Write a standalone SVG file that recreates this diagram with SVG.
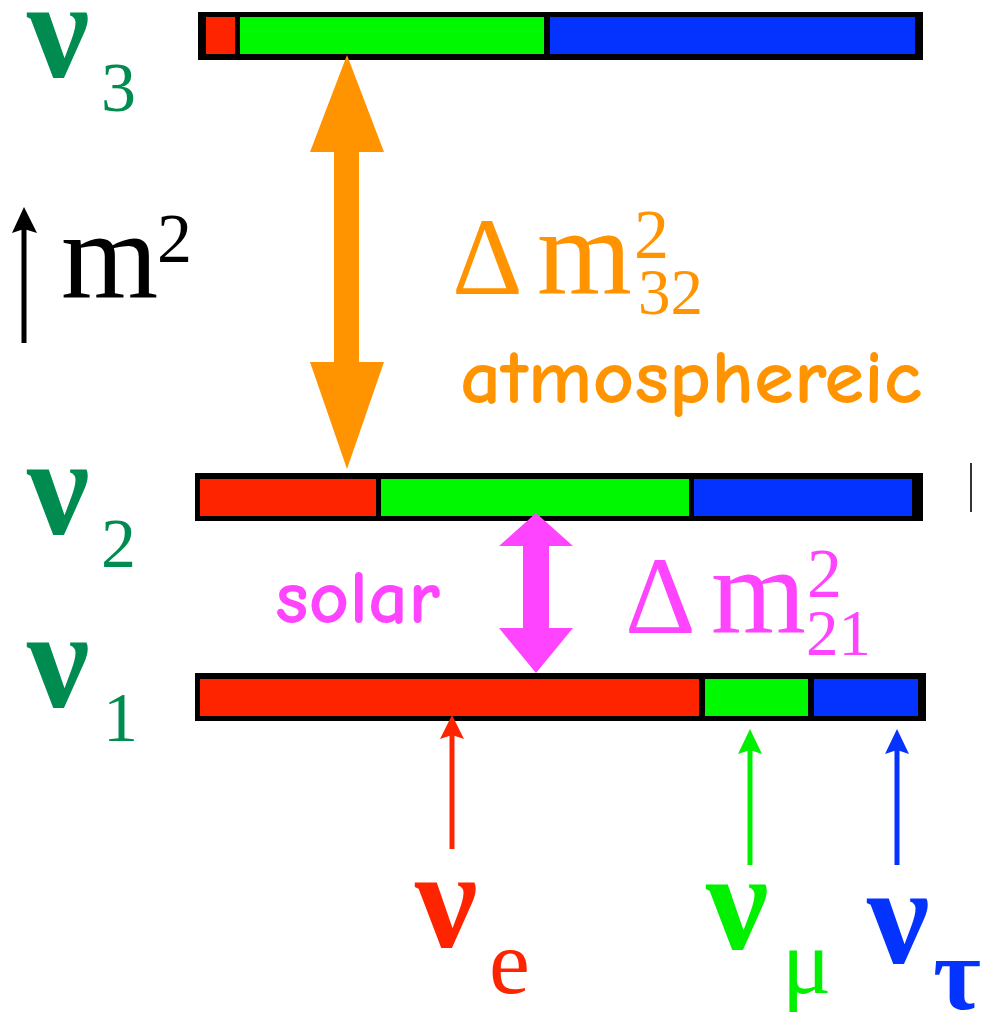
<svg xmlns="http://www.w3.org/2000/svg" width="982" height="1013" viewBox="0 0 982 1013">
<style>
.serif{font-family:"Liberation Serif","Times New Roman",serif}
.nu{font-family:"Liberation Serif","Times New Roman",serif;font-weight:bold;font-size:140px}
.sub{font-family:"Liberation Serif","Times New Roman",serif;font-size:70px}
.comic{font-family:"Comic Sans MS","Comic Neue","DejaVu Sans",sans-serif;font-size:76px;font-weight:bold}
.frame{fill:#000}
.r{fill:#FF2400}.g{fill:#00F800}.b{fill:#0433FF}
.lab{fill:#008C50}
</style>
<rect width="982" height="1013" fill="#fff"/>
<g id="level3">
<rect class="frame" x="198" y="12" width="725" height="48"/>
<rect class="r" x="206" y="17" width="29" height="37"/>
<rect class="g" x="240" y="17" width="304" height="37"/>
<rect class="b" x="550" y="17" width="365" height="37"/>
<text class="nu lab" x="27" y="77">ν</text>
<text class="sub lab" x="101" y="111">3</text>
</g>
<g id="level2">
<rect class="frame" x="195" y="473" width="728" height="48"/>
<rect class="r" x="200" y="479" width="176" height="37"/>
<rect class="g" x="381" y="479" width="308" height="37"/>
<rect class="b" x="694" y="479" width="218" height="37"/>
<text class="nu lab" x="27" y="534">ν</text>
<text class="sub lab" x="101" y="567">2</text>
<line x1="971" y1="463" x2="971" y2="512" stroke="#333" stroke-width="2"/>
</g>
<g id="level1">
<rect class="frame" x="195" y="673" width="731" height="48"/>
<rect class="r" x="200" y="679" width="499" height="37"/>
<rect class="g" x="705" y="679" width="103" height="37"/>
<rect class="b" x="814" y="679" width="104" height="37"/>
<text class="nu lab" x="27" y="707">ν</text>
<text class="sub lab" x="103" y="741">1</text>
</g>
<g id="axis">
<line x1="24" y1="343" x2="24" y2="228" stroke="#000" stroke-width="5"/>
<polygon points="24,207 37,233 24,229 12,233" fill="#000"/>
<text class="serif" x="61" y="297" font-size="125" fill="#000">m</text>
<text class="serif" x="157" y="262" font-size="70" fill="#000">2</text>
</g>
<g id="atmospheric">
<text class="serif" x="452" y="294" font-size="110" fill="#FF9400">Δ</text>
<text class="serif" x="537" y="294" font-size="122" fill="#FF9400">m</text>
<text class="serif" x="634" y="258" font-size="70" fill="#FF9400">2</text>
<text class="serif" x="638" y="314" font-size="65" fill="#FF9400">32</text>
<text class="comic" x="460" y="403" fill="#FF9400" textLength="462" lengthAdjust="spacingAndGlyphs">atmosphereic</text>
</g>
<g id="solar">
<text class="serif" x="625" y="633" font-size="110" fill="#FF44FF">Δ</text>
<text class="serif" x="711" y="633" font-size="122" fill="#FF44FF">m</text>
<text class="serif" x="807" y="597" font-size="70" fill="#FF44FF">2</text>
<text class="serif" x="806" y="655" font-size="65" fill="#FF44FF">21</text>
<text class="comic" x="275" y="623" fill="#FF44FF" textLength="165" lengthAdjust="spacingAndGlyphs">solar</text>
</g>
<g id="flavor-e">
<text class="nu" x="415" y="947" fill="#FF2400">ν</text>
<text class="serif" x="489" y="993" font-size="92" fill="#FF2400">e</text>
</g>
<g id="flavor-mu">
<text class="nu" x="706" y="949" fill="#00F000">ν</text>
<text class="serif" x="782" y="993" font-size="92" fill="#00F000">μ</text>
</g>
<g id="flavor-tau">
<text class="nu" x="867" y="963" fill="#0433FF">ν</text>
<text class="serif" x="933" y="1009" font-size="104" font-weight="bold" fill="#0433FF">τ</text>
</g>
<g id="connectors">
<polygon points="347,55 384,152 359,152 359,362 384,362 347,469 310,362 334,362 334,152 310,152" fill="#FF9400"/>
<polygon points="536,513 573,546 549,546 549,628 573,628 536,673 499,628 523,628 523,546 499,546" fill="#FF44FF"/>
<line x1="452" y1="849" x2="452" y2="734" stroke="#FF2400" stroke-width="5"/>
<polygon points="452,715 464,739 452,735 440,739" fill="#FF2400"/>
<line x1="750" y1="865" x2="750" y2="749" stroke="#00F000" stroke-width="5"/>
<polygon points="750,729 762,754 750,750 738,754" fill="#00F000"/>
<line x1="897" y1="865" x2="897" y2="749" stroke="#0433FF" stroke-width="5"/>
<polygon points="897,729 909,754 897,750 885,754" fill="#0433FF"/>
</g>
</svg>
